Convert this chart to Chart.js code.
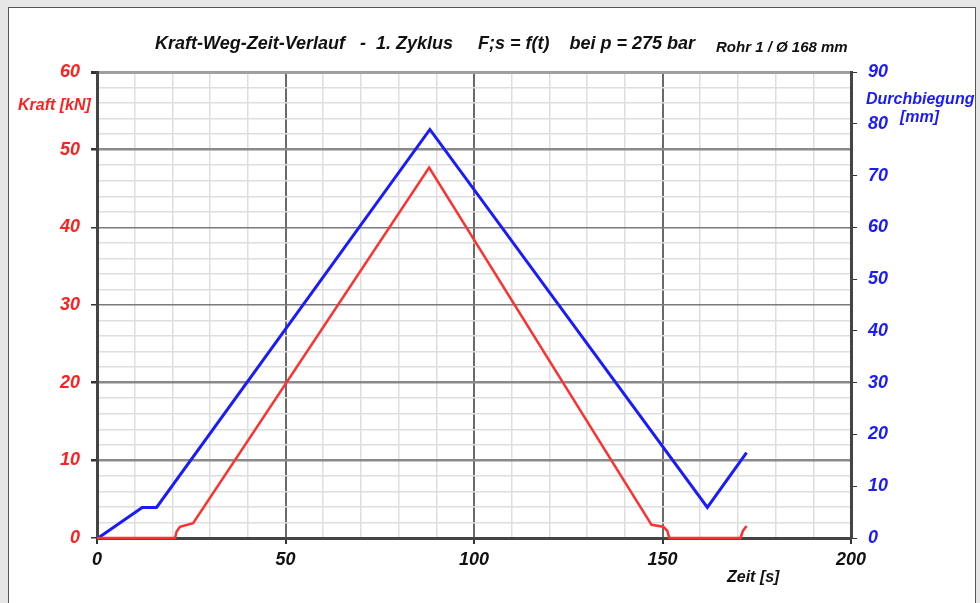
<!DOCTYPE html>
<html lang="de">
<head>
<meta charset="UTF-8">
<title>Kraft-Weg-Zeit-Verlauf</title>
<script src="https://cdn.jsdelivr.net/npm/chart.js"></script>
<style>
  html, body { margin: 0; padding: 0; background: #e6e6e6; }
  #wrap { position: relative; width: 980px; height: 603px; overflow: hidden; }
  #panel { position: absolute; left: 8px; top: 7px; width: 966px; height: 610px;
           background: #fff; border: 1px solid #555; }
  #c { position: absolute; left: 0; top: 0; }
</style>
</head>
<body>
<div id="wrap">
  <div id="panel"></div>
  <canvas id="c" width="980" height="603"></canvas>
</div>
<script>
// Kraft (kN), linke Achse
const kraftZeit = [0, 20.7, 21.1, 22.0, 25.5, 88.1, 147.1, 150.2, 151.3, 151.8, 170.7, 171.3, 172.3];
const kraftWert = [0, 0, 0.8, 1.45, 1.9, 47.7, 1.7, 1.45, 0.9, 0, 0, 0.9, 1.55];

// Durchbiegung (mm), rechte Achse
const wegZeit = [0.3, 12.0, 15.8, 88.3, 161.9, 172.3];
const wegWert = [0, 5.9, 5.9, 78.9, 5.9, 16.5];

const zeitTicks = [0, 50, 100, 150, 200];

const FONT = '"Liberation Sans", Arial, sans-serif';
Chart.defaults.font.family = FONT;
Chart.defaults.font.style = 'italic';
Chart.defaults.font.weight = 'bold';

const textPlugin = {
  id: 'texte',
  afterDraw(chart) {
    const ctx = chart.ctx;
    ctx.save();
    ctx.textBaseline = 'middle';
    ctx.fillStyle = '#111';
    ctx.textAlign = 'left';
    ctx.font = 'italic bold 18px ' + FONT;
    ctx.fillText('Kraft-Weg-Zeit-Verlauf   -  1. Zyklus     F;s = f(t)    bei p = 275 bar', 155, 44);
    ctx.font = 'italic bold 15px ' + FONT;
    ctx.fillText('Rohr 1 / Ø 168 mm', 716, 48);
    ctx.font = 'italic bold 16px ' + FONT;
    ctx.fillText('Zeit [s]', 727, 578);
    ctx.fillStyle = '#ff2020';
    ctx.fillText('Kraft [kN]', 18, 106);
    ctx.fillStyle = '#1a1aff';
    ctx.fillText('Durchbiegung', 866, 100);
    ctx.fillText('[mm]', 900, 118);
    ctx.restore();
  }
};

const yGridColor = (c) => {
  const v = c.tick.value;
  if (v === 60) return '#a0a0a0';
  if (v === 10 || v === 20 || v === 50) return '#8a8a8a';
  if (v === 30 || v === 40) return '#7a7a7a';
  return '#dedede';
};
const yGridWidth = (c) => {
  const v = c.tick.value;
  if (v === 60) return 3;
  if (v === 10 || v === 20 || v === 50) return 2.5;
  return 1.5;
};

new Chart(document.getElementById('c'), {
  type: 'line',
  data: {
    datasets: [{
      label: 'Kraft [kN]',
      data: kraftZeit.map((t, i) => ({ x: t, y: kraftWert[i] })),
      borderColor: '#ff3030',
      borderWidth: 2.5,
      pointRadius: 0,
      tension: 0,
      clip: false,
      yAxisID: 'y'
    }, {
      label: 'Durchbiegung [mm]',
      data: wegZeit.map((t, i) => ({ x: t, y: wegWert[i] })),
      borderColor: '#1a1aff',
      borderWidth: 3,
      pointRadius: 0,
      tension: 0,
      clip: false,
      yAxisID: 'y1'
    }]
  },
  options: {
    responsive: false,
    animation: false,
    layout: { padding: { top: 72, left: 0, right: 0, bottom: 0 } },
    plugins: { legend: { display: false }, tooltip: { enabled: false } },
    scales: {
      x: {
        type: 'linear',
        min: 0, max: 200,
        afterFit: (s) => { s.height = 65; },
        ticks: {
          stepSize: 10,
          color: '#111',
          font: { size: 18 },
          padding: 5,
          maxRotation: 0,
          autoSkip: false,
          callback: (v) => zeitTicks.includes(v) ? v : ''
        },
        grid: {
          color: (c) => (c.tick.value % 50 === 0 ? '#6a6a6a' : '#dedede'),
          lineWidth: (c) => (c.tick.value % 50 === 0 ? 2 : 1.5),
          tickLength: 6,
          tickColor: (c) => (c.tick.value % 50 === 0 ? '#333' : 'transparent')
        },
        border: { color: '#444', width: 3 }
      },
      y: {
        position: 'left',
        min: 0, max: 60,
        afterFit: (s) => { s.width = 97; },
        ticks: {
          stepSize: 2,
          color: '#ff2020',
          font: { size: 18 },
          padding: 11,
          autoSkip: false,
          callback: (v) => (v % 10 === 0 ? v : '')
        },
        grid: {
          color: yGridColor,
          lineWidth: yGridWidth,
          tickLength: 6,
          tickColor: (c) => (c.tick.value % 10 === 0 ? '#333' : 'transparent')
        },
        border: { color: '#444', width: 3 }
      },
      y1: {
        position: 'right',
        min: 0, max: 90,
        afterFit: (s) => { s.width = 129; },
        ticks: {
          stepSize: 10,
          color: '#1a1aff',
          font: { size: 18 },
          padding: 11
        },
        grid: {
          drawOnChartArea: false,
          tickLength: 6,
          tickColor: '#333'
        },
        border: { color: '#444', width: 3 }
      }
    }
  },
  plugins: [textPlugin]
});
</script>
</body>
</html>
